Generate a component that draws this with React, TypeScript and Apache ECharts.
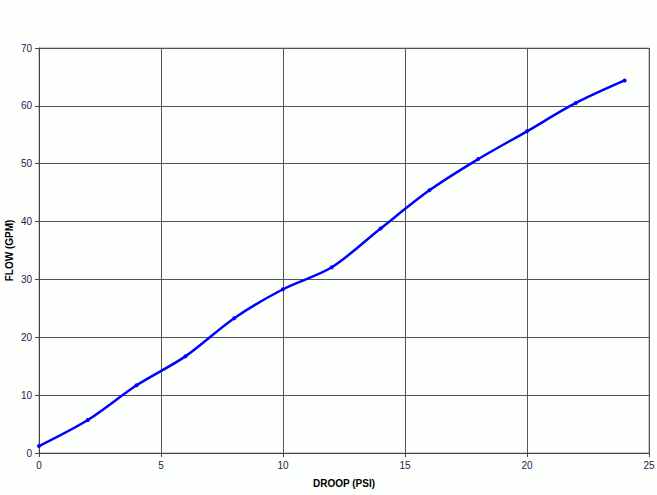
import React, { useEffect, useRef } from "react";
import * as echarts from "echarts";

const droop = [0, 2, 4, 6, 8, 10, 12, 14, 16, 18, 20, 22, 24];
const flow = [1.2, 5.7, 11.7, 16.7, 23.3, 28.3, 32.1, 38.8, 45.4, 50.8, 55.6, 60.5, 64.4];

const FONT = "'Liberation Sans', Arial, sans-serif";

const App: React.FC = () => {
  const chartRef = useRef<HTMLDivElement>(null);

  useEffect(() => {
    if (!chartRef.current) return;
    const chart = echarts.init(chartRef.current, undefined, { renderer: "svg" });

    const option = {
      animation: false,
      backgroundColor: "#fdfffd",
      grid: {
        left: 39,
        right: 8,
        top: 48,
        bottom: 42,
        show: true,
        borderColor: "#999999",
        borderWidth: 1,
        containLabel: false,
        outerBoundsMode: "none",
      },
      xAxis: {
        type: "value",
        min: 0,
        max: 25,
        interval: 5,
        name: "DROOP (PSI)",
        nameLocation: "middle",
        nameGap: 25,
        nameMoveOverlap: false,
        nameTextStyle: { fontFamily: FONT, fontSize: 10, fontWeight: "bold", color: "#000" },
        axisLine: { lineStyle: { color: "#444", width: 1 } },
        axisTick: { show: true, length: 4, lineStyle: { color: "#444" } },
        axisLabel: { fontFamily: FONT, fontSize: 10, color: "#22224a", margin: 7 },
        splitLine: { show: true, lineStyle: { color: "#555", width: 1 } },
      },
      yAxis: {
        type: "value",
        min: 0,
        max: 70,
        interval: 10,
        name: "FLOW (GPM)",
        nameLocation: "middle",
        nameGap: 25,
        nameMoveOverlap: false,
        nameTextStyle: { fontFamily: FONT, fontSize: 10, fontWeight: "bold", color: "#000" },
        axisLine: { show: true, lineStyle: { color: "#444", width: 1 } },
        axisTick: { show: true, length: 4, lineStyle: { color: "#444" } },
        axisLabel: { fontFamily: FONT, fontSize: 10, color: "#22224a", margin: 7 },
        splitLine: { show: true, lineStyle: { color: "#555", width: 1 } },
      },
      series: [
        {
          type: "line",
          data: droop.map((d, i) => [d, flow[i]]),
          smooth: 0.3,
          symbol: "circle",
          symbolSize: 4,
          lineStyle: { color: "#0000ff", width: 2.5 },
          itemStyle: { color: "#0000ff" },
        },
      ],
    };

    chart.setOption(option);
    return () => chart.dispose();
  }, []);

  return (
    <div
      ref={chartRef}
      style={{ position: "fixed", left: 0, top: 0, width: 657, height: 495 }}
    />
  );
};

export default App;
